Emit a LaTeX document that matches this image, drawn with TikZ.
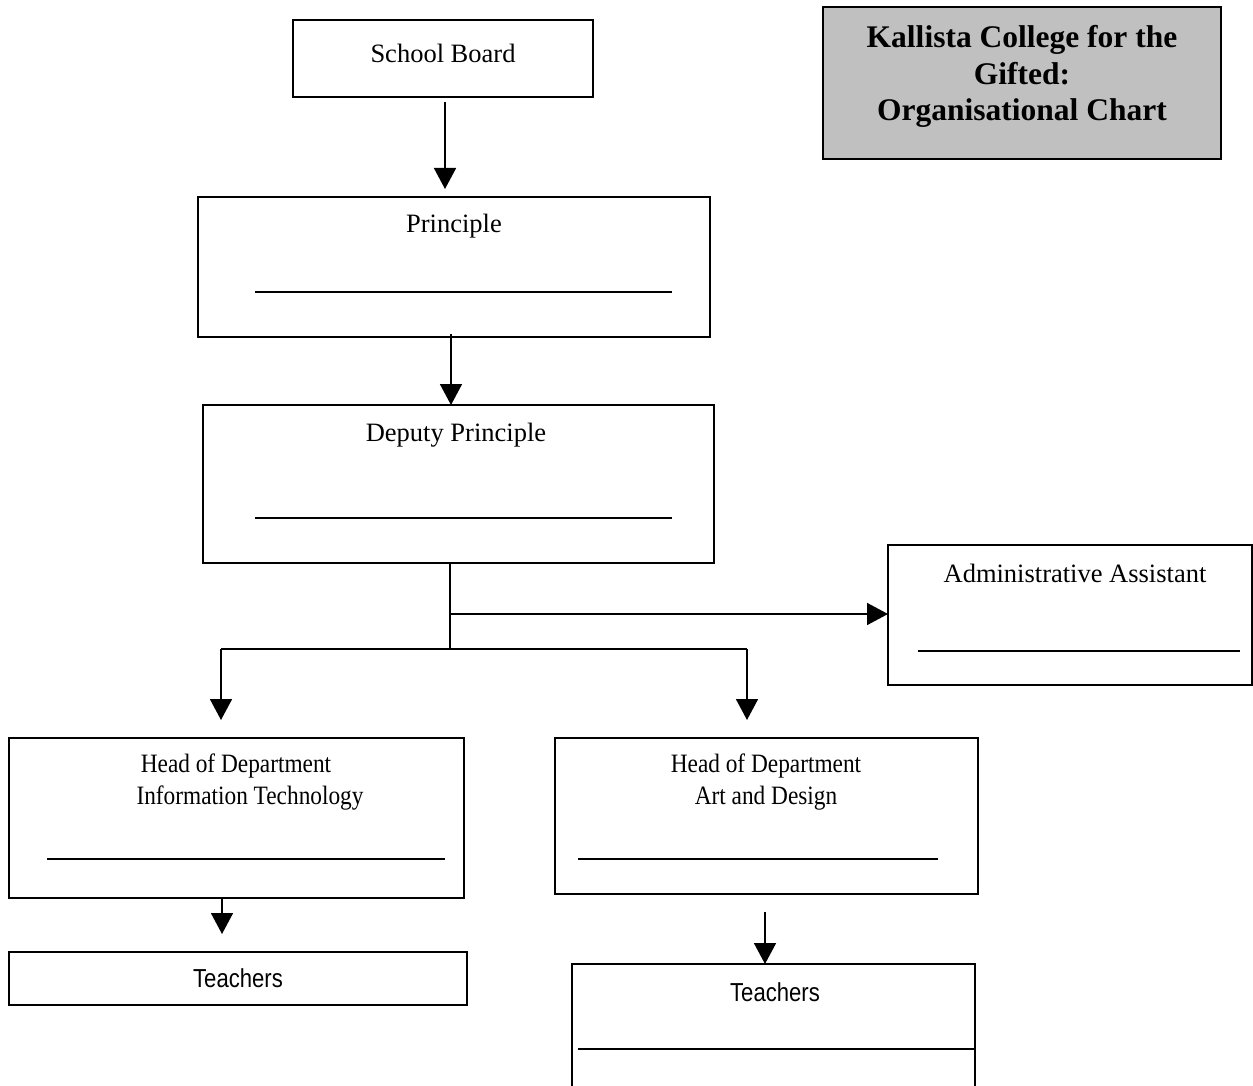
\documentclass[tikz,border=0pt]{standalone}
\usepackage{fontspec}
\setmainfont{Liberation Serif}
\newfontfamily\narrowserif[FakeStretch=0.88]{Liberation Serif}
\newfontfamily\narrowsans[FakeStretch=0.85]{Liberation Sans}
\usetikzlibrary{arrows.meta,calc}
\definecolor{titlegray}{HTML}{C0C0C0}
\tikzset{
  box/.style={draw=black, line width=1.7pt, inner sep=0pt, outer sep=0pt, fill=white},
  rule/.style={line width=1.7pt},
  conn/.style={line width=1.7pt},
  arr/.style={line width=1.7pt, -{Triangle[length=21pt,width=22pt]}},
  lbl/.style={anchor=base, inner sep=0pt, font=\fontsize{26.5}{31}\selectfont},
  hodlbl/.style={anchor=base, inner sep=0pt, font=\fontsize{26.5}{31}\narrowserif},
  teachlbl/.style={anchor=base, inner sep=0pt, font=\fontsize{26}{31}\narrowsans},
  titlelbl/.style={anchor=base, inner sep=0pt, font=\fontsize{31.5}{37}\selectfont\bfseries}
}
\begin{document}
\begin{tikzpicture}[x=1pt,y=-1pt]
\useasboundingbox (0,0) rectangle (1253,1086);
\begin{scope}
\clip (0,0) rectangle (1253,1086);
% title
\node[box, fill=titlegray, minimum width=398pt, minimum height=152pt] (title) at (1022,83) {};
\node[titlelbl] (t1) at (1022,48) {Kallista College for the};
\node[titlelbl] (t2) at (1022,85) {Gifted:};
\node[titlelbl] (t3) at (1022,121) {Organisational Chart};
% boxes
\node[box, minimum width=300pt, minimum height=77pt] (sb) at (443,58.5) {};
\node[lbl] (sbt) at (443,63) {School Board};
\node[box, minimum width=512pt, minimum height=140pt] (pr) at (454,267) {};
\node[lbl] (prt) at (454,233) {Principle};
\draw[rule] (255,292) -- (672,292);
\node[box, minimum width=511pt, minimum height=158pt] (dp) at (458.5,484) {};
\node[lbl] (dpt) at (456,441) {Deputy Principle};
\draw[rule] (255,518) -- (672,518);
\node[box, minimum width=364pt, minimum height=140pt] (aa) at (1070,615) {};
\node[lbl] (aat) at (1075,582) {Administrative Assistant};
\draw[rule] (918,651) -- (1240,651);
\node[box, minimum width=455pt, minimum height=160pt] (it) at (236.5,818) {};
\node[hodlbl] (it1) at (236,772) {Head of Department};
\node[hodlbl] (it2) at (250,804) {Information Technology};
\draw[rule] (47,859) -- (445,859);
\node[box, minimum width=423pt, minimum height=156pt] (ad) at (766.5,816) {};
\node[hodlbl] (ad1) at (766,772) {Head of Department};
\node[hodlbl] (ad2) at (766,804) {Art and Design};
\draw[rule] (578,859) -- (938,859);
\node[box, minimum width=458pt, minimum height=53pt] (tl) at (238,978.5) {};
\node[teachlbl] (tlt) at (238,987) {Teachers};
\node[box, minimum width=403pt, minimum height=140pt] (tr) at (773.5,1034) {};
\node[teachlbl] (trt) at (775,1001) {Teachers};
\draw[rule] (578,1049) -- (975,1049);
% connectors
\draw[arr, shorten >=8pt] ([xshift=2pt,yshift=-5pt]sb.south) -- ([xshift=2pt]sb.south |- pr.north);
\draw[arr] ([xshift=-3pt,yshift=3pt]pr.south) -- ([xshift=-3pt]pr.south |- dp.north);
\coordinate (jt) at (450,563);
\coordinate (jm) at (450,614);
\coordinate (jb) at (450,649);
\coordinate (bl) at (221,649);
\coordinate (br) at (747,649);
\draw[conn] (jt) -- (jb);
\draw[arr] (jm) -- (aa.west |- jm);
\draw[conn] (bl) -- (br);
\draw[arr, shorten >=18pt] (bl) -- (bl |- it.north);
\draw[arr, shorten >=18pt] (br) -- (br |- ad.north);
\draw[arr, shorten >=18pt] ([xshift=-14.5pt]it.south) -- ([xshift=-14.5pt]it.south |- tl.north);
\draw[arr] ([xshift=-1.5pt,yshift=-18pt]ad.south) -- ([xshift=-1.5pt]ad.south |- tr.north);
\end{scope}
\end{tikzpicture}
\end{document}
